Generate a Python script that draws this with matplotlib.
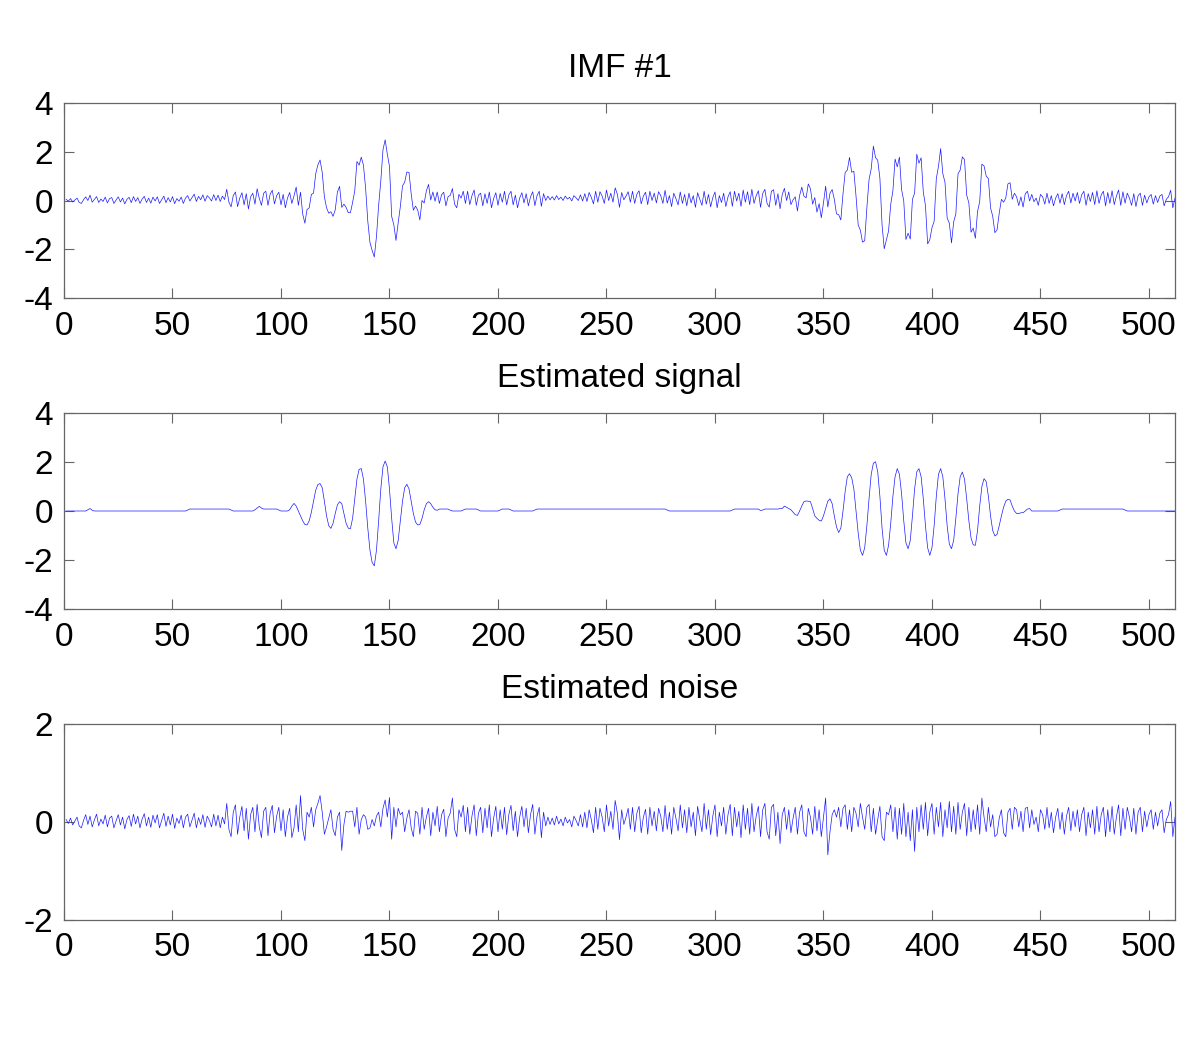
import numpy as np
import matplotlib
matplotlib.use("Agg")
import matplotlib.pyplot as plt

# Estimated signal, in hundredths (samples 0..511), 16 per line
signal_c = [
    0,0,0,0,0,0,0,0,0,0,5,10,3,0,0,0,
    0,0,0,0,0,0,0,0,0,0,0,0,0,0,0,0,
    0,0,0,0,0,0,0,0,0,0,0,0,0,0,0,0,
    0,0,0,0,0,0,0,0,4,8,8,8,8,8,8,8,
    8,8,8,8,8,8,8,8,8,8,8,8,4,0,0,0,
    0,0,0,0,0,0,0,5,12,19,12,8,8,8,8,8,
    8,8,4,0,0,0,0,5,20,31,20,0,-20,-40,-55,-57,
    -40,-5,40,85,108,112,95,40,-20,-60,-71,-50,-10,25,38,30,
    -10,-50,-70,-72,-30,50,130,170,173,130,40,-70,-160,-210,-224,-160,
    -40,90,180,204,180,90,-30,-130,-154,-120,-40,40,95,109,90,40,
    -10,-45,-57,-55,-30,5,30,38,30,15,5,3,8,8,8,8,
    8,3,0,0,0,0,0,4,8,8,8,8,8,8,4,0,
    0,0,0,0,0,0,0,0,4,8,8,8,8,4,0,0,
    0,0,0,0,0,0,0,0,4,8,8,8,8,8,8,8,
    8,8,8,8,8,8,8,8,8,8,8,8,8,8,8,8,
    8,8,8,8,8,8,8,8,8,8,8,8,8,8,8,8,
    8,8,8,8,8,8,8,8,8,8,8,8,8,8,8,8,
    8,8,8,8,8,4,0,0,0,0,0,0,0,0,0,0,
    0,0,0,0,0,0,0,0,0,0,0,0,0,0,0,0,
    0,0,0,4,8,8,8,8,8,8,8,8,8,8,8,8,
    2,4,8,8,8,8,8,8,8,10,10,20,15,10,5,-5,
    -15,-18,0,20,38,41,40,38,10,-20,-30,-38,-41,-20,10,40,
    50,30,-20,-65,-88,-70,0,80,140,152,136,90,0,-90,-160,-181,
    -150,-60,50,150,195,201,160,60,-70,-160,-181,-140,-50,60,140,173,
    150,70,-40,-130,-154,-120,-20,90,160,173,140,50,-60,-150,-181,-150,
    -60,60,150,173,140,50,-60,-135,-154,-120,-30,70,140,159,130,50,
    -40,-110,-138,-140,-80,20,100,132,120,60,-20,-80,-102,-95,-60,-20,
    15,40,48,45,20,0,-10,-11,-7,-7,0,8,10,0,0,0,
    0,0,0,0,0,0,0,0,0,0,4,8,8,8,8,8,
    8,8,8,8,8,8,8,8,8,8,8,8,8,8,8,8,
    8,8,8,8,8,8,8,8,4,0,0,0,0,0,0,0,
    0,0,0,0,0,0,0,0,0,0,0,0,0,0,0,0,
]

# Estimated noise, in hundredths (samples 0..511), 32 per line
noise_c = [
    5,-3,8,-6,2,10,-8,-12,3,15,-5,12,-10,4,16,-8,6,-4,14,-10,8,12,-12,2,15,-6,10,-14,5,13,-9,16,
    -4,12,-12,6,17,-8,10,-11,14,-2,15,-12,3,18,-9,12,-6,16,-13,8,-3,14,-12,10,16,-10,4,18,-12,9,-5,15,
    -11,12,3,-10,16,-8,14,-12,10,-4,38,-15,-30,20,35,-25,10,32,-18,28,-35,15,30,-20,36,-10,-32,22,30,-28,18,34,
    -22,12,30,-18,25,-30,10,28,-32,-12,35,-20,54,-15,-38,20,10,30,-10,25,38,54,20,-25,-10,8,25,-15,-28,10,20,-58,
    -5,22,20,22,22,-10,30,-25,5,15,10,-15,-12,5,-8,12,20,-10,28,45,10,50,-35,30,-10,28,15,20,-20,8,25,-12,
    -30,22,18,-25,30,-15,10,28,-28,20,-8,32,-20,15,26,-30,8,18,49,-15,-30,25,10,34,-20,30,-25,12,35,-28,18,30,
    -22,28,-12,35,-30,8,32,-20,25,-15,30,-26,15,34,-18,22,-30,10,32,-10,28,-22,15,36,-25,12,30,-32,20,-8,10,-5,
    8,-6,12,-4,6,-8,10,-2,5,-10,12,3,-8,15,-10,20,-12,25,5,-22,30,-15,28,10,-20,35,-8,22,-15,44,18,-36,
    25,-5,10,28,-15,30,-20,18,32,-22,10,26,-25,30,-8,22,-18,28,12,-20,34,-15,20,-25,30,8,-18,35,-12,25,-22,30,
    -10,20,-28,32,5,-20,38,-15,25,-26,12,35,-30,20,-8,30,-25,15,36,-28,30,-10,22,-32,35,-15,28,-25,38,-20,12,32,
    -30,25,38,-20,-35,30,36,-28,20,-44,15,30,-15,25,-22,8,30,-25,20,35,-20,-30,28,10,-25,32,-18,25,-30,10,49,-67,
    -20,15,25,10,30,-10,28,35,-15,25,-20,30,18,-10,38,10,-15,30,36,-20,28,-25,5,32,-30,-38,20,15,35,-20,30,-35,
    28,-25,38,-30,20,-38,25,-60,30,-20,35,-15,40,-28,20,38,-25,30,-10,40,-30,25,-12,42,-20,32,-25,40,-15,20,38,-28,
    30,-20,25,-15,35,-25,49,10,-20,30,-10,15,-30,-25,8,25,-22,-30,20,28,-15,30,25,-10,22,-20,28,30,-12,25,-5,10,
    -20,25,15,-15,30,-12,20,-22,10,28,-15,20,-25,12,30,-18,22,-10,25,-20,15,30,-28,20,-12,25,-25,32,-20,15,30,-30,
    25,-20,32,-25,10,35,-28,28,-15,30,10,-20,28,-25,20,30,-20,22,-10,15,25,-15,20,-8,18,25,-22,5,15,42,-30,10,
]

titles = ["IMF #1", "Estimated signal", "Estimated noise"]
xticks = [0, 50, 100, 150, 200, 250, 300, 350, 400, 450, 500]
yticks_main = [-4, -2, 0, 2, 4]
yticks_noise = [-2, 0, 2]

assert len(signal_c) == 512 and len(noise_c) == 512, (len(signal_c), len(noise_c))

signal = np.array(signal_c) / 100.0
noise = np.array(noise_c) / 100.0
imf = signal + noise
n = np.arange(1, 513)

plt.rcParams['font.family'] = ['Liberation Sans', 'DejaVu Sans']
plt.rcParams['axes.unicode_minus'] = False

fig = plt.figure(figsize=(12, 10.39), dpi=100)
fig.patch.set_facecolor('white')

left, width = 64 / 1200, 1111 / 1200
rects = [
    (left, 1 - 298 / 1039, width, 195 / 1039),
    (left, 1 - 609 / 1039, width, 196 / 1039),
    (left, 1 - 920 / 1039, width, 196 / 1039),
]
series = [imf, signal, noise]
ylims = [(-4, 4), (-4, 4), (-2, 2)]
yt = [yticks_main, yticks_main, yticks_noise]

for rect, y, title, yl, ytk in zip(rects, series, titles, ylims, yt):
    ax = fig.add_axes(rect)
    ax.plot(n, y, color='#1a1aff', lw=0.5)
    ax.set_xlim(0, 512)
    ax.set_ylim(*yl)
    ax.set_xticks(xticks)
    ax.set_yticks(ytk)
    ax.tick_params(direction='in', top=True, right=True, length=7,
                   width=0.8, color='#666666', labelsize=24)
    ax.tick_params(axis='x', pad=9)
    ax.tick_params(axis='y', pad=8)
    for sp in ax.spines.values():
        sp.set_color('#666666')
        sp.set_linewidth(0.9)
    ax.set_title(title, fontsize=24, pad=19)

fig.savefig('out.png', dpi=100, facecolor='white')
